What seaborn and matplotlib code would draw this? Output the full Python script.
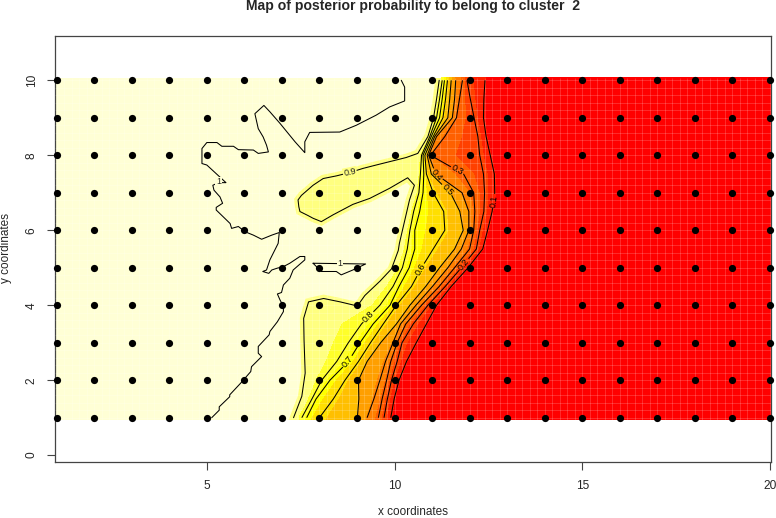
import numpy as np
import matplotlib
matplotlib.use("Agg")
import matplotlib.pyplot as plt
from matplotlib.patches import Rectangle
import seaborn as sns

# sample sites
site_x = list(range(1, 21))
site_y = list(range(1, 11))

# contour levels read along each row of the map
levels = [0.9, 0.8, 0.7, 0.6, 0.5, 0.4, 0.3, 0.2, 0.1, 0.0]
rows_y = [1, 1.5, 2, 2.5, 3, 3.5, 4, 4.5, 5, 5.5, 6, 6.5, 7, 7.5, 8, 8.5, 9, 9.5, 10]

# x position where the probability reaches each level, one line per row
front_x = [
    [7.31, 7.53, 7.66, 8.00, 9.01, 9.27, 9.57, 9.72, 9.90, 10.00],
    [7.53, 7.80, 7.91, 8.37, 9.05, 9.45, 9.67, 9.81, 9.99, 10.10],
    [7.62, 8.06, 8.28, 8.68, 9.04, 9.61, 9.79, 9.92, 10.12, 10.22],
    [7.61, 8.46, 8.77, 9.04, 9.27, 9.76, 9.90, 10.07, 10.32, 10.42],
    [7.59, 8.77, 9.08, 9.36, 9.63, 9.96, 10.07, 10.20, 10.58, 10.68],
    [7.58, 9.12, 9.43, 9.70, 10.05, 10.16, 10.30, 10.50, 10.85, 10.95],
    [9.00, 9.61, 9.88, 10.05, 10.41, 10.57, 10.72, 10.89, 11.12, 11.22],
    [9.45, 9.96, 10.12, 10.45, 10.83, 11.01, 11.19, 11.35, 11.51, 11.60],
    [9.90, 10.21, 10.39, 10.72, 11.20, 11.42, 11.60, 11.78, 11.96, 12.05],
    [10.11, 10.34, 10.54, 11.03, 11.60, 11.78, 12.00, 12.18, 12.35, 12.45],
    [10.23, 10.41, 10.54, 11.34, 11.83, 11.98, 12.11, 12.27, 12.48, 12.60],
    [10.35, 10.51, 10.67, 11.31, 11.74, 11.98, 12.14, 12.38, 12.60, 12.72],
    [10.50, 10.65, 10.76, 11.03, 11.49, 11.80, 12.11, 12.40, 12.67, 12.80],
    [10.60, 10.69, 10.78, 10.85, 10.98, 11.10, 11.84, 12.37, 12.66, 12.80],
    [10.63, 10.72, 10.76, 10.81, 10.87, 10.91, 10.96, 12.27, 12.55, 12.70],
    [10.89, 10.94, 10.98, 11.03, 11.07, 11.12, 11.34, 12.22, 12.44, 12.60],
    [11.04, 11.12, 11.20, 11.29, 11.42, 11.54, 11.65, 12.12, 12.37, 12.50],
    [11.12, 11.20, 11.27, 11.36, 11.47, 11.60, 11.73, 12.02, 12.38, 12.50],
    [11.19, 11.27, 11.33, 11.41, 11.51, 11.63, 11.81, 11.93, 12.41, 12.55],
]

# the 0.9 contour, from the top of the map round the lobe to the bottom
c90_x = [11.19, 11.12, 11.04, 10.89, 10.62, 10.31, 9.87, 9.51, 9.16, 8.81, 8.45, 8.10, 7.83, 7.52,
         7.43, 7.45, 7.48, 7.70, 7.83, 8.05, 8.36, 8.89, 9.34, 9.87, 10.35, 10.53, 10.40, 10.13,
         10.10, 9.92, 9.61, 9.21, 9.01, 8.55, 8.11, 7.71, 7.58, 7.59, 7.62, 7.53, 7.31]
c90_y = [10, 9.5, 9, 8.5, 8.05, 7.94, 7.83, 7.74, 7.65, 7.54, 7.45, 7.38, 7.2, 6.93,
         6.81, 6.63, 6.5, 6.39, 6.32, 6.23, 6.41, 6.69, 6.85, 7.12, 7.4, 7.2, 6.81, 5.65,
         5.46, 4.97, 4.64, 4.26, 3.98, 4.09, 4.18, 4.09, 3.65, 3.07, 2.19, 1.57, 1.0]

# the level 1 contour
c100_x = [10.18, 10.27, 10.27, 9.87, 9.51, 8.98, 8.54, 7.74, 7.61, 7.61, 7.35, 6.95, 6.68, 6.52, 6.28,
          6.37, 6.50, 6.59, 6.64, 6.37, 6.24, 5.84, 5.71, 5.40, 5.27, 5.00, 4.87, 4.87, 5.00, 5.51,
          5.31, 5.16, 5.19, 5.35, 5.42, 5.25, 5.25, 5.62, 5.66, 5.84, 6.02, 6.24, 6.46, 6.73, 6.93,
          6.90, 6.68, 6.59, 6.49, 6.65, 6.73, 6.88, 7.04, 7.21, 7.48, 7.61, 7.61, 7.30, 7.21, 7.04,
          6.99, 6.88, 6.95, 7.04, 7.04, 6.88, 6.68, 6.66, 6.37, 6.37, 6.46, 6.19, 6.17, 5.90, 5.61,
          5.61, 5.33, 5.33, 5.13]
c100_y = [10, 9.82, 9.45, 9.29, 9.07, 8.80, 8.62, 8.61, 8.36, 8.07, 8.36, 8.85, 9.16, 9.33, 9.11,
          8.71, 8.49, 8.27, 8.09, 8.05, 8.14, 8.15, 8.24, 8.24, 8.34, 8.34, 8.18, 7.78, 7.74, 7.27,
          7.27, 7.20, 7.07, 6.89, 6.72, 6.61, 6.54, 6.18, 6.05, 6.10, 5.96, 5.87, 5.76, 5.87, 5.94,
          5.65, 5.21, 4.94, 4.90, 4.85, 4.94, 4.99, 5.03, 5.12, 5.30, 5.30, 5.21, 4.94, 4.72, 4.54,
          4.34, 4.30, 4.14, 3.97, 3.83, 3.56, 3.30, 3.21, 2.90, 2.72, 2.63, 2.36, 2.23, 1.92, 1.61,
          1.56, 1.29, 1.20, 1.00]
loop_x = [7.83, 8.55, 9.23, 8.89, 8.58, 8.45, 8.05, 7.92, 7.83]
loop_y = [5.12, 5.11, 5.10, 4.94, 4.81, 4.90, 4.90, 5.03, 5.12]

# heat.colors(12), low to high
heat = ["#FF0000", "#FF2000", "#FF4000", "#FF6000", "#FF8000", "#FF9F00",
        "#FFBF00", "#FFDF00", "#FFFF00", "#FFFF2A", "#FFFF80", "#FFFFD5"]
band_edges = [-0.01, 1/12, 2/12, 3/12, 4/12, 5/12, 6/12, 7/12, 8/12, 9/12, 10/12]

# where the labels sit on the contours
label_spots = [(12.64, 6.78), (11.8, 5.13), (11.67, 7.6), (11.16, 7.53),
               (11.42, 7.1), (10.72, 4.93), (8.77, 2.48), (9.28, 3.71)]

sns.set_style("ticks")
plt.rcParams["font.family"] = ["Liberation Sans", "DejaVu Sans"]

fig = plt.figure(figsize=(7.76, 5.18), dpi=100)
ax = fig.add_axes([55 / 776, 1 - 462.3 / 518, 716 / 776, 426.6 / 518])
ax.set_xlim(0.955, 20.03)
ax.set_ylim(-0.19, 11.19)
x0, x1 = ax.get_xlim()
map_bottom, map_top = 0.94, 10.07

background = Rectangle((x0, map_bottom), x1 - x0, map_top - map_bottom, fc=heat[11], ec="none", zorder=1)
ax.add_patch(background)

# light band around the 0.9 contour
band = ax.fill(c90_x + [x1, x1], c90_y + [1.0, 10], fc=heat[10], ec=heat[10], lw=5.5, zorder=2)[0]
band.set_clip_path(background)

front = np.array(front_x)
X = np.column_stack([front, np.full(len(front), x1)])
Z = np.tile(levels + [0.0], (len(front), 1))
Y = np.tile(np.array(rows_y, dtype=float)[:, None], (1, X.shape[1]))

# the fill runs a little beyond the first and last row, like the image cells
X_fill = np.vstack([X[0], X, X[-1]])
Z_fill = np.vstack([Z[0], Z, Z[-1]])
Y_fill = np.vstack([np.full(X.shape[1], map_bottom), Y, np.full(X.shape[1], map_top)])
ax.contourf(X_fill, Y_fill, Z_fill, levels=band_edges, colors=heat[:10], zorder=3)

# seams between image cells
cell_edges = np.arange(1, 20.01, 0.2)
ax.vlines(cell_edges, map_bottom, map_top, color="white", lw=0.6, alpha=0.2, zorder=4)
ax.hlines(np.arange(1, 10.01, 0.2), x0, x1, color="white", lw=0.6, alpha=0.2, zorder=4)

cs = ax.contour(X, Y, Z, levels=[0.1, 0.2, 0.3, 0.4, 0.5, 0.6, 0.7, 0.8], colors="black", linewidths=0.75, zorder=5)
ax.clabel(cs, manual=label_spots, fmt="%.1f", fontsize=6.5, inline=True, inline_spacing=1, zorder=5)

ax.plot(c90_x, c90_y, color="black", lw=0.75, zorder=5)
ax.plot(c100_x, c100_y, color="black", lw=0.75, zorder=5)
ax.plot(loop_x, loop_y, color="black", lw=0.75, zorder=5)
ax.text(8.81, 7.54, "0.9", fontsize=6.5, rotation=12, ha="center", va="center", zorder=5,
        bbox=dict(fc=heat[10], ec="none", pad=0.6))
ax.text(5.31, 7.29, "1", fontsize=6.5, ha="center", va="center", zorder=5,
        bbox=dict(fc=heat[11], ec="none", pad=0.4))
ax.text(8.55, 5.11, "1", fontsize=6.5, ha="center", va="center", zorder=5,
        bbox=dict(fc=heat[11], ec="none", pad=0.6))

gx, gy = np.meshgrid(site_x, site_y)
sns.scatterplot(x=gx.ravel(), y=gy.ravel(), color="black", s=27, linewidth=0, ax=ax, zorder=6, clip_on=False)

ax.set_xticks([5, 10, 15, 20])
ax.set_yticks([0, 2, 4, 6, 8, 10])
ax.tick_params(axis="both", length=5.5, width=0.8, color="#444444", labelsize=8.6, pad=7)
plt.setp(ax.get_yticklabels(), rotation=90, va="center")
for side in ax.spines.values():
    side.set_visible(True)
    side.set_color("#444444")
    side.set_linewidth(0.9)

fig.text(413 / 776, 1 - 6 / 518, "Map of posterior probability to belong to cluster  2",
         fontsize=10.1, fontweight="bold", ha="center", va="center")
fig.text(413 / 776, 1 - 512 / 518, "x coordinates", fontsize=8.5, ha="center", va="center")
fig.text(6 / 776, 1 - 248 / 518, "y coordinates", fontsize=8.5, rotation=90, ha="center", va="center")

fig.savefig("out.png", dpi=100)
